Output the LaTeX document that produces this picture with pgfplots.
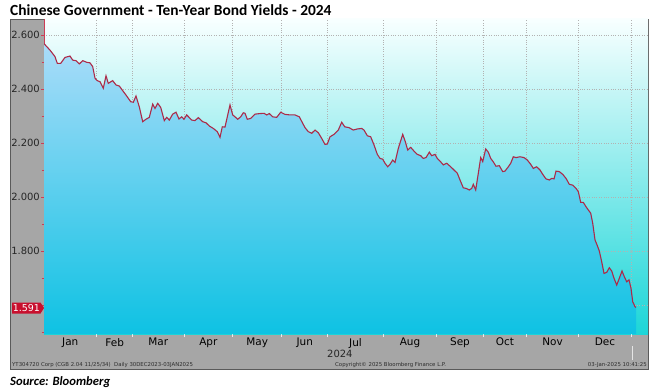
\documentclass[border=0pt]{standalone}
\usepackage{fontspec}
\usepackage{pgfplots}
\pgfplotsset{compat=1.18}
\usepackage{pgfplotstable}
\newfontfamily\bbg{DejaVu Sans}
\newfontfamily\calib{Carlito}
\definecolor{panel}{RGB}{166,166,166}
\definecolor{framegray}{RGB}{90,90,90}
\definecolor{linered}{RGB}{172,42,72}
\definecolor{boxred}{RGB}{200,16,46}
\definecolor{axisred}{RGB}{205,60,85}
\definecolor{bgtop}{RGB}{248,255,255}
\definecolor{bgmid}{RGB}{160,238,238}
\definecolor{bgbot}{RGB}{28,214,216}
\definecolor{filltop}{RGB}{170,220,249}
\definecolor{fillbot}{RGB}{14,194,227}
\definecolor{footgray}{RGB}{45,45,45}

\pgfplotstableread{
x y
0 2.568
6 2.544
11 2.520
13.3 2.495
16.7 2.495
21 2.517
26 2.522
28.7 2.507
32 2.505
35.3 2.493
38.7 2.505
42.7 2.499
46 2.497
48.7 2.483
51 2.440
53.3 2.431
56 2.427
59.3 2.403
62 2.449
64.3 2.421
68.7 2.431
72 2.415
75.3 2.411
78.7 2.394
82.7 2.374
86.7 2.353
89.3 2.351
92 2.374
95.3 2.334
98.7 2.279
102 2.288
105.3 2.295
108.7 2.344
111 2.328
113.7 2.347
116.7 2.332
120.3 2.283
122.7 2.295
125.3 2.285
128.7 2.307
132 2.314
135 2.289
137.7 2.297
140 2.288
142.7 2.304
147.7 2.285
151 2.283
154.3 2.294
158.7 2.279
162 2.275
165.3 2.263
169.3 2.254
173.3 2.242
176 2.221
178.3 2.260
181 2.259
183.3 2.297
186 2.341
188.7 2.304
191 2.297
193.7 2.288
196.7 2.297
199.3 2.312
201 2.310
203.3 2.288
206.7 2.291
211 2.307
216 2.309
220 2.310
222.7 2.304
225.3 2.309
228.7 2.297
232.7 2.295
236.7 2.314
241 2.306
246 2.304
251 2.304
255.3 2.297
258.7 2.273
261 2.257
264.3 2.242
267.7 2.236
271 2.248
274.3 2.238
277.7 2.217
281 2.195
283.3 2.196
286 2.223
290 2.232
294.3 2.248
297.7 2.277
300.7 2.260
305 2.257
309.3 2.248
313.3 2.252
317.7 2.254
320 2.248
323.3 2.227
326.7 2.223
330 2.193
333.3 2.158
336 2.143
338.7 2.140
341 2.125
343.7 2.112
346 2.121
348.7 2.137
351 2.128
354.3 2.180
358.7 2.232
361.3 2.205
363.7 2.174
366.7 2.184
370 2.170
373.3 2.158
376.7 2.153
379.3 2.143
382 2.146
385.3 2.166
387.7 2.153
391 2.158
393.3 2.143
396 2.133
399.3 2.119
402.7 2.125
406.7 2.112
410 2.100
413.3 2.088
416 2.063
419.3 2.034
422 2.032
425.3 2.026
427.7 2.032
429.3 2.047
431.7 2.026
434.3 2.088
436.7 2.146
438.7 2.131
441.7 2.178
444.3 2.166
446.7 2.143
449.3 2.130
452 2.114
455.3 2.116
458.7 2.094
461 2.096
464.3 2.112
466.7 2.125
469.3 2.149
472 2.146
476 2.149
480 2.146
483.3 2.137
486.7 2.121
489.3 2.106
492.7 2.112
496 2.100
498.7 2.084
502 2.067
505.3 2.063
507.7 2.069
510 2.067
512 2.096
515.3 2.094
518.7 2.084
522 2.069
525.3 2.047
528.7 2.044
532 2.032
534.3 2.020
536.7 1.980
539.3 1.980
542 1.964
544.3 1.952
546.7 1.940
548.7 1.903
551 1.841
553.3 1.820
555.3 1.800
557.7 1.760
560 1.717
562.7 1.721
565.3 1.738
567.7 1.726
570 1.699
572.7 1.674
575.3 1.699
578 1.726
580.3 1.705
582.7 1.686
585 1.693
587 1.662
588.7 1.612
591 1.594
592 1.591
}\yields

\begin{document}
\begin{tikzpicture}[x=1bp,y=1bp]
\useasboundingbox (0,0) rectangle (658,391);
\fill[white] (0,0) rectangle (658,391);
\filldraw[fill=panel, draw=framegray, line width=0.8bp] (10,22) rectangle (648,372);
\node[anchor=base west, inner sep=0pt, font=\calib\bfseries\fontsize{15.5}{17}\selectfont] at (10,376) {Chinese Government - Ten-Year Bond Yields - 2024};
\node[anchor=base west, inner sep=0pt, font=\calib\bfseries\itshape\fontsize{12.7}{15}\selectfont] at (10,6) {Source: Bloomberg};
\begin{axis}[
  at={(44bp,57bp)}, anchor=south west,
  scale only axis, width=604bp, height=315bp,
  xmin=0, xmax=604, ymin=1.4926, ymax=2.6593,
  axis x line*=bottom, axis y line*=left,
  x axis line style={draw=none},
  y axis line style={draw=axisred, line width=0.7bp},
  axis background/.style={top color=bgtop, middle color=bgmid, bottom color=bgbot},
  tick align=outside,
  xtick={52.7,88.7,140,188.7,237.7,283.7,339.3,392.7,439.3,482.7,534.3,587.7},
  xticklabels={},
  x tick style={draw=white!85!gray, line width=0.6bp},
  major tick length=3bp, minor tick length=2.5bp,
  extra x ticks={26.3,70.7,114.3,164.3,213.2,260.7,311.5,366,416,461,508.5,561},
  extra x tick labels={Jan,Feb,Mar,Apr,May,Jun,Jul,Aug,Sep,Oct,Nov,Dec},
  extra x tick style={grid=none, major tick length=0pt,
    tick label style={anchor=north, inner sep=0pt, yshift=-4bp, font=\bbg\fontsize{10.5}{12}\selectfont, text=black}},
  ytick={1.8,2.0,2.2,2.4,2.6},
  extra y ticks={1.6}, extra y tick labels={},
  minor ytick={1.5,1.7,1.9,2.1,2.3,2.5},
  y tick style={draw=axisred, line width=0.8bp},
  yticklabel style={anchor=east, inner sep=0pt, xshift=-1bp, font=\bbg\fontsize{10}{12}\selectfont, text=black!85,
    /pgf/number format/.cd, fixed, fixed zerofill, precision=3, assume math mode=true},
  xmajorgrids, ymajorgrids,
  grid style={dotted, draw=gray!60, line width=0.6bp},
  clip=true,
]
\addplot[draw=none, top color=filltop, bottom color=fillbot, forget plot]
  table[x=x,y=y]{\yields} -- (axis cs:592,1.4926) -- (axis cs:0,1.4926) -- cycle;
\addplot[draw=linered, line width=1.1bp, mark=none] table[x=x,y=y]{\yields};
\end{axis}
\fill[boxred] (12,77.5) -- (40.5,77.5) -- (44,83) -- (40.5,88.5) -- (12,88.5) -- cycle;
\node[text=white, inner sep=0pt, font=\bbg\fontsize{9.5}{10}\selectfont] at (26.3,83) {1.591};
\node[anchor=base west, inner sep=0pt, font=\bbg\fontsize{10}{12}\selectfont, text=black!85] at (327,33.7) {2024};
\draw[white!80!gray, line width=0.6bp] (632,31) -- (632,45);
\node[anchor=base west, inner sep=0pt, font=\bbg\fontsize{5.4}{6}\selectfont, text=footgray] at (12,24.5) {YT304720 Corp (CGB 2.04 11/25/34)\ \ Daily 30DEC2023-03JAN2025};
\node[anchor=base west, inner sep=0pt, font=\bbg\fontsize{5.4}{6}\selectfont, text=footgray] at (335,24.5) {Copyright\textcopyright{} 2025 Bloomberg Finance L.P.};
\node[anchor=base east, inner sep=0pt, font=\bbg\fontsize{5.4}{6}\selectfont, text=footgray] at (647,24.5) {03-Jan-2025 10:41:25};
\end{tikzpicture}
\end{document}
